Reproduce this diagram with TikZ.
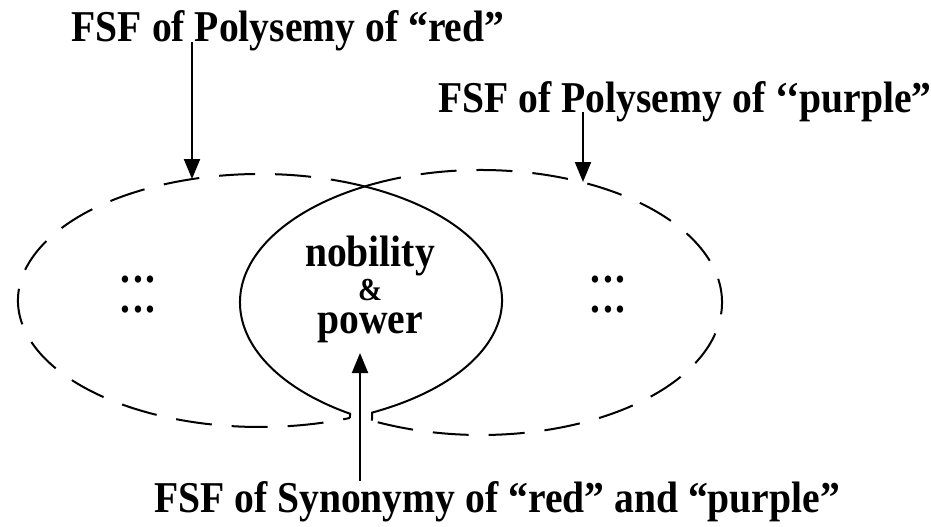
\documentclass[tikz,border=0pt]{standalone}
\usepackage{fontspec}
\setmainfont{Liberation Serif}[FakeStretch=0.9]
\usetikzlibrary{arrows.meta}

\tikzstyle{tag} = [font=\bfseries\fontsize{22}{24}\selectfont, inner sep=0pt]
\tikzstyle{dots} = [tag]
\tikzstyle{pointer} = [line width=1pt, -{Triangle[length=10pt,width=8pt]}]
\tikzstyle{rim} = [line width=1pt, dash pattern=on 18pt off 10pt]
\tikzstyle{lens} = [line width=1pt]
\newcommand{\ellip}{.\kern1.5pt.\kern1.5pt.}

\begin{document}
\begin{tikzpicture}[x=0.5pt, y=0.5pt]
\useasboundingbox (0,0) rectangle (931,526);
%centres
\coordinate (Lc) at (260,225.5);
\coordinate (Rc) at (481,223.5);
%begin outer-dashed
\draw[rim] ([shift={(64:242 and 126.5)}]Lc) arc[start angle=64, end angle=291.8, x radius=242, y radius=126.5];
\draw[rim] ([shift={(118.5:241 and 132.5)}]Rc) arc[start angle=118.5, end angle=-116.9, x radius=241, y radius=132.5];
%end outer-dashed
%begin inner-loop
\draw[lens] ([shift={(291.8:242 and 126.5)}]Lc) -- ([shift={(237.1:241 and 132.5)}]Rc)
    arc[start angle=237.1, end angle=118.5, x radius=241, y radius=132.5];
\draw[lens] ([shift={(243.1:241 and 132.5)}]Rc) -- ([shift={(297.6:242 and 126.5)}]Lc)
    arc[start angle=297.6, end angle=424, x radius=242, y radius=126.5];
%end inner-loop
%texts
\node[tag, anchor=base] (redlbl) at (288,484) {FSF of Polysemy of ``red''};
\node[tag, anchor=base] (purplelbl) at (685,414) {FSF of Polysemy of `\kern-1pt`purple''};
\node[tag, anchor=base] (synlbl) at (497,14) {FSF of Synonymy of ``red'' and ``purple''};
%begin core
\node[tag, anchor=base] (nobility) at (370,260) {nobility};
\node[tag, anchor=base, font=\bfseries\fontsize{16}{18}\selectfont] (amp) at (370,226) {\&};
\node[tag, anchor=base] (power) at (370,193) {power};
%end core
\node[dots] (leftdotsa) at (138,246) {\ellip};
\node[dots] (leftdotsb) at (138,216) {\ellip};
\node[dots] (rightdotsa) at (608,246) {\ellip};
\node[dots] (rightdotsb) at (608,216) {\ellip};
%arrows
\coordinate (redtip) at (192,347);
\coordinate (purpletip) at (583,344);
\coordinate (syntip) at (360,173);
\draw[pointer] (redlbl.base -| redtip) -- (redtip);
\draw[pointer] (purplelbl.base -| purpletip) -- (purpletip);
\draw[pointer] (synlbl.north -| syntip) -- (syntip);
\end{tikzpicture}
\end{document}
